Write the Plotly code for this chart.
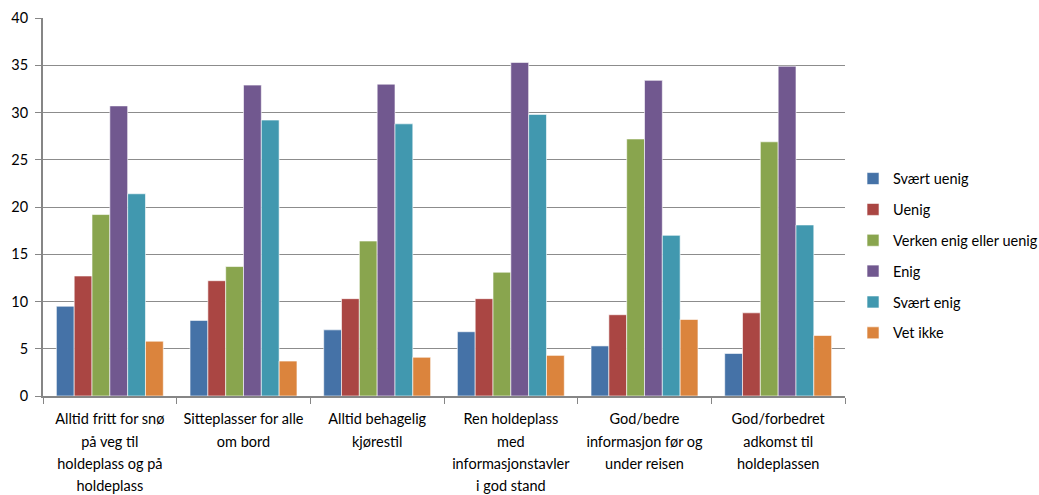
import plotly.graph_objects as go

categories = [
    "Alltid fritt for snø<br>på veg til<br>holdeplass og på<br>holdeplass",
    "Sitteplasser for alle<br>om bord",
    "Alltid behagelig<br>kjørestil",
    "Ren holdeplass<br>med<br>informasjonstavler<br>i god stand",
    "God/bedre<br>informasjon før og<br>under reisen",
    "God/forbedret<br>adkomst til<br>holdeplassen",
]

svaert_uenig = [9.5, 8.0, 7.0, 6.8, 5.3, 4.5]
uenig = [12.7, 12.2, 10.3, 10.3, 8.6, 8.8]
verken = [19.2, 13.7, 16.4, 13.1, 27.2, 26.9]
enig = [30.7, 32.9, 33.0, 35.3, 33.4, 34.9]
svaert_enig = [21.4, 29.2, 28.8, 29.8, 17.0, 18.1]
vet_ikke = [5.8, 3.7, 4.1, 4.3, 8.1, 6.4]

series = [
    ("Svært uenig", svaert_uenig, "#4572A7"),
    ("Uenig", uenig, "#AA4643"),
    ("Verken enig eller uenig", verken, "#89A54E"),
    ("Enig", enig, "#71588F"),
    ("Svært enig", svaert_enig, "#4198AF"),
    ("Vet ikke", vet_ikke, "#DB843D"),
]

FONT = "Lato, 'Open Sans', sans-serif"

# wrap each category label line in a smaller span so the lines get roomier spacing
tick_text = [
    "<br>".join(f'<span style="font-size:14.5px">{ln}</span>' for ln in c.split("<br>"))
    for c in categories
]

fig = go.Figure()
for name, vals, color in series:
    fig.add_trace(go.Bar(
        name=name, x=categories, y=vals,
        marker=dict(color=color, line=dict(color="rgba(255,255,255,0.6)", width=1)),
        legendgroup=name,
    ))

fig.update_layout(
    width=1039, height=495,
    barmode="group", bargap=0.2, bargroupgap=0,
    plot_bgcolor="white", paper_bgcolor="white",
    margin=dict(l=43, r=194, t=18, b=99, autoexpand=False),
    font=dict(family=FONT, size=14, color="#000000"),
    legend=dict(
        x=1.01, xanchor="left", y=0.37, yanchor="middle",
        font=dict(family=FONT, size=14.5, color="#000000"),
        tracegroupgap=9, itemwidth=30,
        bgcolor="rgba(0,0,0,0)",
    ),
    showlegend=True,
)

fig.update_xaxes(
    showline=True, linecolor="#868686", linewidth=2,
    ticks="outside", tickson="boundaries", ticklen=6, tickcolor="#868686",
    tickmode="array", tickvals=categories, ticktext=tick_text,
    tickangle=0, automargin=False,
    tickfont=dict(family=FONT, size=17, color="#000000"),
    ticklabelstandoff=6,
    showgrid=False,
)
fig.update_yaxes(
    range=[0, 40], dtick=5, tick0=0,
    showline=True, linecolor="#868686", linewidth=2,
    ticks="outside", ticklen=6, tickcolor="#868686",
    showgrid=True, gridcolor="#8c8c8c", gridwidth=1,
    zeroline=False, automargin=False,
    tickfont=dict(family=FONT, size=14.5, color="#000000"),
    ticklabelstandoff=4,
)

fig.write_html("out.html")
